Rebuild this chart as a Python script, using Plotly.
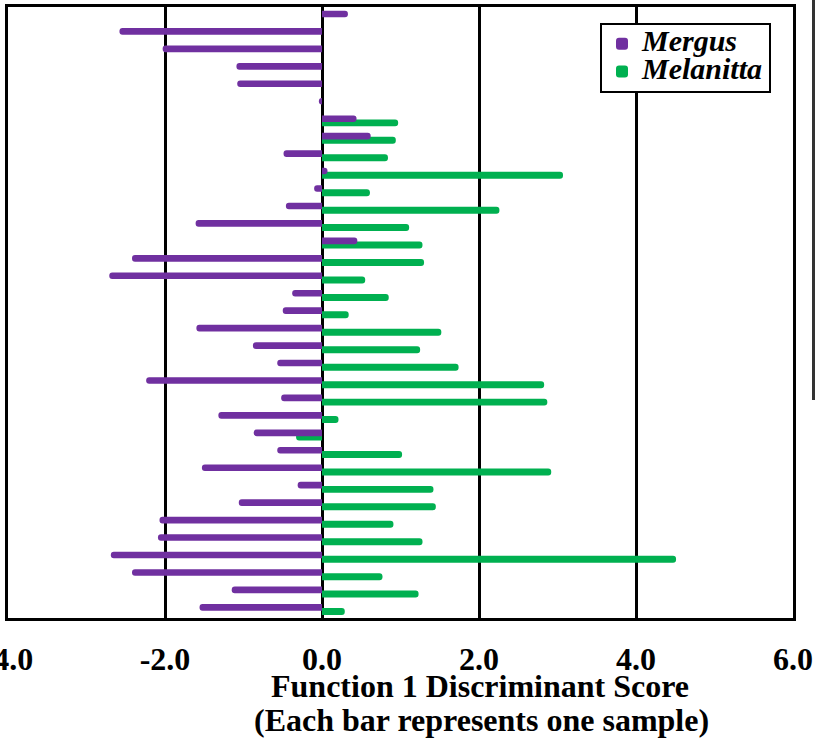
import plotly.graph_objects as go

# sample index (one bar per sample), top to bottom
samples = list(range(35))

mergus = [0.33, -2.58, -2.03, -1.09, -1.08, -0.04, 0.44, 0.62, -0.49, 0.07,
          -0.10, -0.46, -1.61, 0.45, -2.42, -2.71, -0.38, -0.50, -1.60, -0.88,
          -0.57, -2.24, -0.52, -1.32, -0.87, -0.57, -1.53, -0.31, -1.06, -2.07,
          -2.09, -2.69, -2.42, -1.15, -1.56]

melanitta = [None, None, None, None, None, None, 0.97, 0.94, 0.84, 3.07,
             0.61, 2.26, 1.11, 1.28, 1.30, 0.55, 0.85, 0.34, 1.52, 1.25,
             1.74, 2.83, 2.87, 0.21, -0.33, 1.02, 2.92, 1.42, 1.45, 0.91,
             1.28, 4.51, 0.77, 1.23, 0.29]

tick_vals = [-4, -2, 0, 2, 4, 6]
tick_text = ["-4.0", "-2.0", "0.0", "2.0", "4.0", "6.0"]

PURPLE = "#7030A0"
GREEN = "#00B050"
SERIF = "Liberation Serif"

def legend_name(s):
    return '<span style="font-size:30px"><b><i>' + s + '</i></b></span>'

fig = go.Figure()
fig.add_trace(go.Bar(
    y=samples, x=melanitta, orientation="h", name=legend_name("Melanitta"),
    marker=dict(color=GREEN, line=dict(width=0), cornerradius=3),
    width=0.40, offset=0.04, legendrank=2,
))
fig.add_trace(go.Bar(
    y=samples, x=mergus, orientation="h", name=legend_name("Mergus"),
    marker=dict(color=PURPLE, line=dict(width=0), cornerradius=3),
    width=0.38, offset=-0.19, legendrank=1,
))

fig.update_layout(
    width=816, height=742,
    margin=dict(l=8, r=23, t=7, b=124, autoexpand=False),
    plot_bgcolor="white", paper_bgcolor="white",
    barmode="overlay",
    showlegend=True,
    legend=dict(
        x=(600 - 8) / 785, y=(618 - 23) / 611, xanchor="left", yanchor="top",
        bgcolor="white", bordercolor="black", borderwidth=2,
        font=dict(family=SERIF, size=19, color="black"),
        itemclick=False, tracegroupgap=0,
    ),
    font=dict(family=SERIF, color="black"),
)

fig.update_xaxes(
    range=[-4, 6], tickvals=tick_vals, ticktext=tick_text,
    showgrid=True, gridcolor="black", gridwidth=3,
    zeroline=True, zerolinecolor="black", zerolinewidth=3,
    showline=True, linecolor="black", linewidth=3, mirror=True,
    ticks="", ticklabelstandoff=11, automargin=False,
    ticklabeloverflow="allow",
    tickfont=dict(family=SERIF, size=32, color="black", weight="bold"),
)
fig.update_yaxes(
    range=[34.61, -0.40], showticklabels=False, showgrid=False, zeroline=False,
    showline=True, linecolor="black", linewidth=3, mirror=True, ticks="",
    automargin=False,
)

fig.add_annotation(
    text="<b>Function 1 Discriminant Score</b>", xref="paper", yref="paper",
    x=(480 - 8) / 785, y=-(666 - 618) / 611, xanchor="center", yanchor="top",
    showarrow=False, font=dict(family=SERIF, size=32, color="black"),
)
fig.add_annotation(
    text="<b>(Each bar represents one sample)</b>", xref="paper", yref="paper",
    x=(481.5 - 8) / 785, y=-(700 - 618) / 611, xanchor="center", yanchor="top",
    showarrow=False, font=dict(family=SERIF, size=32, color="black"),
)

# stray vertical rule at the right edge of the picture
fig.add_shape(
    type="line", xref="paper", yref="paper",
    x0=(813.5 - 8) / 785, x1=(813.5 - 8) / 785,
    y0=618 / 611, y1=(618 - 400) / 611,
    line=dict(color="#333333", width=3),
)

fig.write_html("out.html", config={"displayModeBar": False},
               post_script="document.body.style.margin='0';")
